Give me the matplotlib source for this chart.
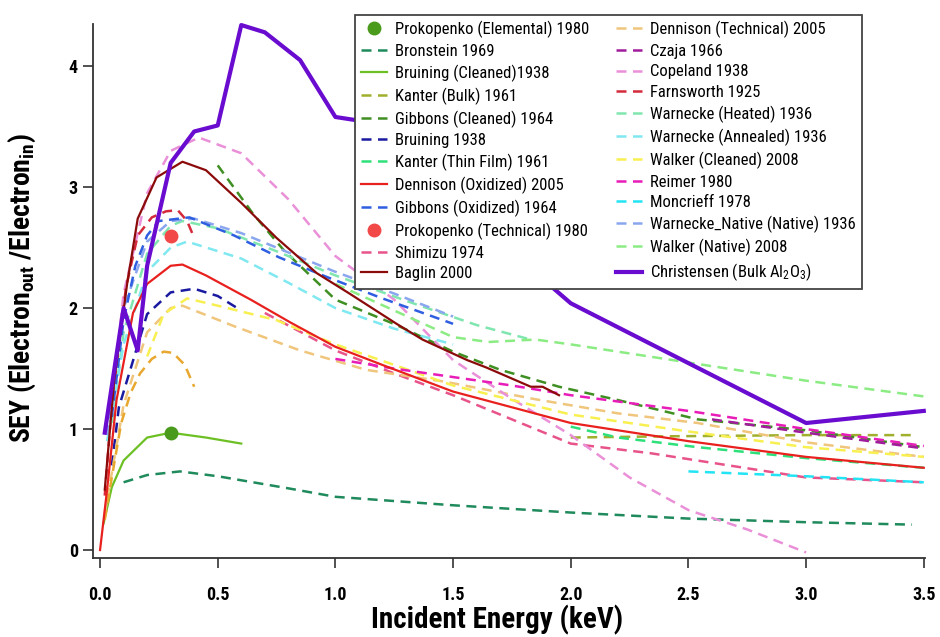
import matplotlib

matplotlib.use("Agg")
import matplotlib.pyplot as plt
from matplotlib import font_manager
from matplotlib.ticker import FormatStrFormatter, MultipleLocator

# pick a narrow sans face if one is installed
_fonts = font_manager.fontManager.ttflist
_names = {f.name for f in _fonts}
narrow = next((n for n in ["Liberation Sans Narrow", "Roboto Condensed", "Arial Narrow"] if n in _names), None)
if narrow:
    plt.rcParams["font.family"] = [narrow, "Liberation Sans", "DejaVu Sans"]
elif any(f.name == "DejaVu Sans" and f.stretch == "condensed" for f in _fonts):
    plt.rcParams["font.family"] = ["DejaVu Sans"]
    plt.rcParams["font.stretch"] = "condensed"
else:
    plt.rcParams["font.family"] = ["Liberation Sans", "DejaVu Sans"]
plt.rcParams["mathtext.default"] = "regular"

# secondary electron yield of alumina, energy in keV
prokopenko_el_x = [0.3]
prokopenko_el_y = [0.97]
prokopenko_tech_x = [0.3]
prokopenko_tech_y = [2.6]

bronstein_x = [0.1, 0.2, 0.34, 0.5, 0.8, 1.0, 1.5, 2.0, 2.5, 3.0, 3.45]
bronstein_y = [0.56, 0.62, 0.65, 0.61, 0.51, 0.44, 0.37, 0.31, 0.26, 0.23, 0.21]

bruining_cl_x = [0.015, 0.05, 0.1, 0.2, 0.3, 0.45, 0.6]
bruining_cl_y = [0.22, 0.52, 0.74, 0.93, 0.97, 0.93, 0.88]

kanter_bulk_x = [2.0, 2.4, 3.0, 3.47]
kanter_bulk_y = [0.93, 0.94, 0.95, 0.95]

gibbons_cl_x = [0.5, 0.65, 0.78, 1.0, 1.26, 1.5, 1.7, 1.95, 2.2, 2.54, 3.0, 3.5]
gibbons_cl_y = [3.18, 2.78, 2.48, 2.07, 1.86, 1.64, 1.49, 1.35, 1.24, 1.08, 0.99, 0.85]

bruining_x = [0.05, 0.08, 0.13, 0.2, 0.3, 0.4, 0.5, 0.6]
bruining_y = [0.7, 1.18, 1.5, 1.95, 2.13, 2.16, 2.1, 1.98]

kanter_film_x = [2.0, 2.2, 2.54, 3.0, 3.5]
kanter_film_y = [1.02, 0.93, 0.85, 0.76, 0.68]

dennison_ox_x = [0.0, 0.03, 0.07, 0.14, 0.2, 0.3, 0.35, 0.45, 0.64, 0.81, 1.0, 1.2, 1.5, 2.0, 2.5, 3.0, 3.5]
dennison_ox_y = [0.0, 0.5, 1.24, 1.96, 2.2, 2.35, 2.36, 2.27, 2.07, 1.88, 1.68, 1.53, 1.31, 1.05, 0.9, 0.77, 0.68]

gibbons_ox_x = [0.05, 0.1, 0.15, 0.2, 0.25, 0.38, 0.57, 0.76, 0.96, 1.2, 1.5]
gibbons_ox_y = [1.1, 1.9, 2.35, 2.6, 2.72, 2.75, 2.6, 2.42, 2.26, 2.08, 1.87]

shimizu_x = [0.7, 1.0, 1.25, 1.5, 1.75, 2.0, 2.34, 3.0, 3.5]
shimizu_y = [1.96, 1.65, 1.46, 1.28, 1.08, 0.88, 0.8, 0.6, 0.56]

baglin_x = [0.02, 0.06, 0.115, 0.16, 0.24, 0.35, 0.45, 0.6, 0.75, 0.92, 1.06, 1.26, 1.37, 1.56, 1.64, 1.83, 1.88, 1.95]
baglin_y = [0.5, 1.4, 2.2, 2.74, 3.08, 3.21, 3.14, 2.87, 2.58, 2.29, 2.12, 1.87, 1.74, 1.57, 1.51, 1.35, 1.35, 1.28]

dennison_tech_x = [0.02, 0.1, 0.2, 0.3, 0.35, 0.57, 0.85, 1.13, 1.47, 1.84, 2.2, 2.54, 3.0, 3.5]
dennison_tech_y = [0.3, 1.2, 1.8, 2.0, 2.02, 1.85, 1.65, 1.49, 1.39, 1.25, 1.13, 1.05, 0.89, 0.77]

dennison_short_x = [0.02, 0.05, 0.09, 0.13, 0.17, 0.22, 0.27, 0.31, 0.36, 0.4]
dennison_short_y = [0.25, 0.6, 1.05, 1.3, 1.46, 1.58, 1.64, 1.63, 1.53, 1.35]

czaja_x = [2.6, 3.0, 3.5]
czaja_y = [1.08, 0.97, 0.84]

copeland_x = [0.05, 0.1, 0.2, 0.3, 0.42, 0.6, 0.8, 1.0, 1.25, 1.5, 1.75, 2.0, 2.25, 2.5, 2.75, 3.0]
copeland_y = [1.2, 2.12, 2.95, 3.3, 3.41, 3.28, 2.9, 2.43, 2.07, 1.57, 1.25, 0.95, 0.6, 0.33, 0.17, -0.02]

farnsworth_x = [0.02, 0.05, 0.11, 0.16, 0.22, 0.28, 0.33, 0.37, 0.4]
farnsworth_y = [0.45, 1.2, 2.17, 2.6, 2.75, 2.8, 2.81, 2.72, 2.58]

warnecke_heat_x = [0.05, 0.1, 0.2, 0.3, 0.35, 0.5, 0.75, 1.0, 1.33, 1.6, 1.83]
warnecke_heat_y = [1.05, 1.8, 2.45, 2.68, 2.72, 2.66, 2.47, 2.27, 2.04, 1.86, 1.74]

warnecke_ann_x = [0.03, 0.1, 0.2, 0.3, 0.37, 0.6, 0.8, 1.0, 1.25, 1.5]
warnecke_ann_y = [0.9, 1.7, 2.3, 2.5, 2.55, 2.41, 2.21, 2.0, 1.83, 1.7]

walker_cl_x = [0.2, 0.27, 0.37, 0.5, 0.75, 1.0, 1.5, 2.0, 2.5, 3.0, 3.5]
walker_cl_y = [1.6, 1.95, 2.08, 2.02, 1.9, 1.7, 1.36, 1.12, 0.98, 0.85, 0.77]

reimer_x = [1.0, 1.25, 1.5, 1.75, 2.0, 2.5, 3.0, 3.5]
reimer_y = [1.58, 1.5, 1.43, 1.36, 1.28, 1.15, 1.0, 0.86]

moncrieff_x = [2.5, 3.0, 3.5]
moncrieff_y = [0.65, 0.61, 0.56]

warnecke_nat_x = [0.03, 0.1, 0.2, 0.3, 0.4, 0.6, 0.8, 1.0, 1.25, 1.5]
warnecke_nat_y = [0.95, 2.0, 2.55, 2.72, 2.74, 2.62, 2.46, 2.3, 2.12, 1.93]

walker_nat_x = [1.0, 1.25, 1.5, 1.65, 1.85, 2.0, 2.2, 2.5, 3.0, 3.5]
walker_nat_y = [2.2, 1.98, 1.76, 1.72, 1.74, 1.7, 1.64, 1.55, 1.4, 1.27]

christensen_x = [0.02, 0.1, 0.16, 0.2, 0.3, 0.4, 0.5, 0.6, 0.7, 0.85, 1.0, 1.1, 2.0, 3.0, 3.5]
christensen_y = [0.97, 2.0, 1.65, 2.35, 3.2, 3.46, 3.51, 4.34, 4.28, 4.05, 3.58, 3.55, 2.04, 1.05, 1.15]

DASH = (4, 2.6)

fig = plt.figure(figsize=(9.4, 6.37), dpi=100)
ax = fig.add_axes([0.099, 0.124, 0.885, 0.838])


def dashed(x, y, color, label):
    return ax.plot(x, y, color=color, lw=1.8, dashes=DASH, label=label, clip_on=False)[0]


def solid(x, y, color, label, lw=1.6):
    return ax.plot(x, y, color=color, lw=lw, label=label, clip_on=False)[0]


h = {}
h["bronstein"] = dashed(bronstein_x, bronstein_y, "#1f8a5c", "Bronstein 1969")
h["bruining_cl"] = solid(bruining_cl_x, bruining_cl_y, "#6cc024", "Bruining (Cleaned)1938")
h["kanter_bulk"] = dashed(kanter_bulk_x, kanter_bulk_y, "#a0b02c", "Kanter (Bulk) 1961")
h["gibbons_cl"] = dashed(gibbons_cl_x, gibbons_cl_y, "#3f8f22", "Gibbons (Cleaned) 1964")
h["bruining"] = dashed(bruining_x, bruining_y, "#1a1aa0", "Bruining 1938")
h["kanter_film"] = dashed(kanter_film_x, kanter_film_y, "#2ee07a", "Kanter (Thin Film) 1961")
h["shimizu"] = dashed(shimizu_x, shimizu_y, "#e8548a", "Shimizu 1974")
h["dennison_tech"] = dashed(dennison_tech_x, dennison_tech_y, "#f0c57c", "Dennison (Technical) 2005")
dashed(dennison_short_x, dennison_short_y, "#e8a830", "_nolegend_")
h["czaja"] = dashed(czaja_x, czaja_y, "#a01c9c", "Czaja 1966")
h["copeland"] = dashed(copeland_x, copeland_y, "#ea90d8", "Copeland 1938")
h["farnsworth"] = dashed(farnsworth_x, farnsworth_y, "#d42a3c", "Farnsworth 1925")
h["warnecke_heat"] = dashed(warnecke_heat_x, warnecke_heat_y, "#80e6b0", "Warnecke (Heated) 1936")
h["warnecke_ann"] = dashed(warnecke_ann_x, warnecke_ann_y, "#80e8f0", "Warnecke (Annealed) 1936")
h["walker_cl"] = dashed(walker_cl_x, walker_cl_y, "#f8f050", "Walker (Cleaned) 2008")
h["reimer"] = dashed(reimer_x, reimer_y, "#e81cb8", "Reimer 1980")
h["moncrieff"] = dashed(moncrieff_x, moncrieff_y, "#22e4f4", "Moncrieff 1978")
h["warnecke_nat"] = dashed(warnecke_nat_x, warnecke_nat_y, "#8aa6ee", "Warnecke_Native (Native) 1936")
h["gibbons_ox"] = dashed(gibbons_ox_x, gibbons_ox_y, "#2f5fe0", "Gibbons (Oxidized) 1964")
h["walker_nat"] = dashed(walker_nat_x, walker_nat_y, "#8cec84", "Walker (Native) 2008")
h["dennison_ox"] = solid(dennison_ox_x, dennison_ox_y, "#e8201e", "Dennison (Oxidized) 2005")
h["baglin"] = solid(baglin_x, baglin_y, "#8b0a0a", "Baglin 2000")
h["christensen"] = solid(christensen_x, christensen_y, "#6a0cd0", "Christensen (Bulk Al$_2$O$_3$)", lw=3.0)
h["prok_el"] = ax.plot(prokopenko_el_x, prokopenko_el_y, "o", color="#4a9a1c", ms=9,
                       label="Prokopenko (Elemental) 1980")[0]
h["prok_tech"] = ax.plot(prokopenko_tech_x, prokopenko_tech_y, "o", color="#f24848", ms=9,
                         label="Prokopenko (Technical) 1980")[0]

order = ["prok_el", "bronstein", "bruining_cl", "kanter_bulk", "gibbons_cl", "bruining",
         "kanter_film", "dennison_ox", "gibbons_ox", "prok_tech", "shimizu", "baglin",
         "dennison_tech", "czaja", "copeland", "farnsworth", "warnecke_heat", "warnecke_ann",
         "walker_cl", "reimer", "moncrieff", "warnecke_nat", "walker_nat", "christensen"]

leg = ax.legend([h[k] for k in order], [h[k].get_label() for k in order], ncol=2,
                loc="upper right", bbox_to_anchor=(862 / 940, 1 - 15 / 637),
                bbox_transform=fig.transFigure, fontsize=12, numpoints=1,
                handlelength=1.55, handletextpad=0.5, columnspacing=1.6,
                labelspacing=0.34, borderpad=0.35, borderaxespad=0.0,
                fancybox=False, framealpha=1.0, edgecolor="#444444")
leg.get_frame().set_linewidth(1.3)
leg.set_zorder(10)

ax.set_xlim(-0.0297, 3.505)
ax.set_ylim(-0.066, 4.347)
ax.xaxis.set_major_locator(MultipleLocator(0.5))
ax.xaxis.set_major_formatter(FormatStrFormatter("%.1f"))
ax.yaxis.set_major_locator(MultipleLocator(1))

for side in ("top", "right"):
    ax.spines[side].set_visible(False)
for side in ("left", "bottom"):
    ax.spines[side].set_color("#333333")
    ax.spines[side].set_linewidth(1.3)
ax.tick_params(direction="out", length=7, width=1.2, color="#333333", labelsize=13)
ax.tick_params(axis="x", pad=13)
ax.tick_params(axis="y", pad=4)
for lab in ax.get_xticklabels() + ax.get_yticklabels():
    lab.set_fontweight("bold")

ax.set_xlabel("Incident Energy (keV)", fontsize=21, fontweight="bold")
ax.set_ylabel("SEY (Electron$_{out}$ /Electron$_{in}$)", fontsize=20, fontweight="bold")
ax.xaxis.set_label_coords(0.486, -0.088)
ax.yaxis.set_label_coords(-0.066, 0.505)

fig.savefig("out.png", dpi=100)
